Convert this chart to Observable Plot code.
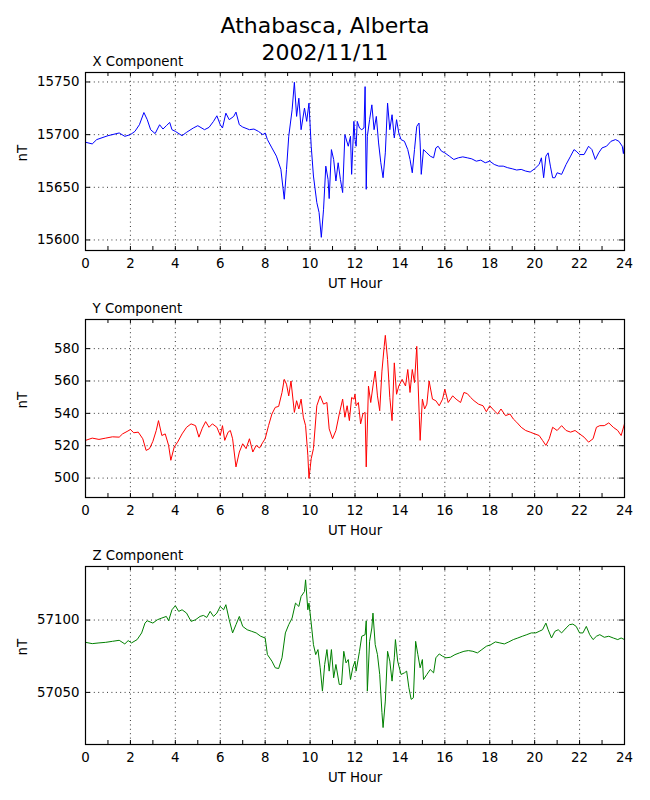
<!DOCTYPE html>
<html>
<head>
<meta charset="utf-8">
<script src="https://cdn.jsdelivr.net/npm/d3@7"></script>
<script src="https://cdn.jsdelivr.net/npm/@observablehq/plot@0.6"></script>
<style>
  html, body { margin: 0; padding: 0; background: white; }
  #root { position: relative; width: 650px; height: 800px; font-family: "DejaVu Sans", sans-serif; background: white; }
  #title { position: absolute; left: 0; top: 12px; width: 650px; text-align: center; font-size: 22px; line-height: 27px; color: black; z-index: 5; }
  .panel { position: absolute; left: 0; z-index: 1; }
</style>
</head>
<body>
<div id="root">
  <div id="title"></div>
</div>
<script>
// ---- data (hour, nT) ----
const titleLines = ["Athabasca, Alberta", "2002/11/11"];
const hourTicks = [0, 2, 4, 6, 8, 10, 12, 14, 16, 18, 20, 22, 24];
const hourMinor = [0,1,2,3,4,5,6,7,8,9,10,11,12,13,14,15,16,17,18,19,20,21,22,23,24];

const xTicks = [15600, 15650, 15700, 15750];
const yTicks = [500, 520, 540, 560, 580];
const zTicks = [57050, 57100];

const xComponent = [
[0,15692.8],[0.3,15691.2],[0.5,15695.3],[1,15699],[1.5,15701.6],[1.75,15698.4],[2,15700],[2.2,15703.1],[2.4,15709.4],[2.6,15721],[2.75,15714.2],[2.9,15704.7],[3.1,15701],[3.3,15709.4],[3.45,15705.3],[3.6,15708.5],[3.75,15711.6],[3.85,15704.7],[4,15703.1],[4.3,15699],[4.5,15702.2],[4.8,15706.3],[5,15708.5],[5.3,15704.7],[5.5,15706.9],[5.7,15712.6],[5.85,15717.9],[6,15709.4],[6.1,15706.3],[6.25,15720.4],[6.4,15714.2],[6.6,15717.3],[6.7,15721.4],[6.85,15709.4],[7,15707.2],[7.3,15704.7],[7.5,15705.3],[7.7,15703.1],[7.9,15700],[8,15701.6],[8.1,15695.3],[8.3,15687.4],[8.5,15679.6],[8.7,15667],[8.85,15638.7],[8.95,15667],[9.05,15698.4],[9.2,15723.6],[9.3,15749.7],[9.4,15717.3],[9.5,15734.6],[9.6,15704.7],[9.75,15725.2],[9.85,15712.6],[9.95,15729.9],[10.05,15689],[10.15,15660.7],[10.3,15635.5],[10.4,15626.1],[10.5,15602.5],[10.6,15629.2],[10.7,15670.1],[10.8,15657.5],[10.85,15639.3],[10.95,15685.8],[11.05,15676.4],[11.15,15656],[11.25,15673.3],[11.35,15657.5],[11.45,15645],[11.55,15700],[11.7,15689],[11.8,15698.4],[11.85,15662.3],[11.95,15712.6],[12,15695.3],
[12.05,15689],[12.1,15712.6],[12.2,15706.3],[12.3,15704.7],[12.4,15706.3],[12.45,15745.6],[12.5,15648.1],[12.55,15698.4],[12.65,15714.2],[12.75,15728.3],[12.85,15704.7],[12.95,15717.3],[13.05,15692.1],[13.15,15673.3],[13.25,15659.1],[13.35,15682.7],[13.45,15729.9],[13.55,15704.7],[13.65,15718.9],[13.75,15696.9],[13.85,15714.2],[13.95,15701.6],[14.05,15695.3],[14.2,15693.7],[14.35,15685.8],[14.45,15676.4],[14.55,15663.8],[14.65,15685.8],[14.75,15707.9],[14.85,15711],[14.9,15692.1],[14.95,15662.3],[15.05,15685.8],[15.2,15682.7],[15.35,15679.6],[15.5,15678],[15.6,15687.4],[15.7,15689],[15.85,15684.3],[16,15682.7],[16.2,15679.6],[16.4,15676.4],[16.6,15678],[16.8,15678.9],[17,15678],[17.2,15677],[17.4,15674.8],[17.6,15675.8],[17.8,15673.3],[18,15674.8],[18.2,15671.7],[18.4,15670.1],[18.6,15670.1],[18.8,15668.6],[19,15667.6],[19.2,15666.4],[19.4,15667],[19.6,15665.4],[19.8,15664.5],[20,15667.6],[20.2,15671.7],[20.3,15678],[20.4,15659.1],[20.5,15679.6],[20.6,15682.7],[20.7,15670.1],[20.8,15659.1],[20.9,15659.1],[21,15663.8],[21.2,15662.3],[21.4,15671.7],[21.6,15679.6],[21.75,15685.8],[21.85,15684.3],[22,15681.1],[22.2,15681.1],[22.4,15689],[22.55,15685.8],[22.7,15676.4],[22.85,15682.7],[23,15687.4],[23.2,15689],[23.4,15693.7],[23.6,15695.3],[23.75,15693.7],[23.9,15689],[23.95,15682],[24,15690.6]
];

const yComponent = [
[0,523.3],[0.3,524.7],[0.6,523.9],[0.9,524.7],[1.2,525.5],[1.5,525.3],[1.65,527.3],[1.85,528.8],[2,530],[2.15,528],[2.35,528.4],[2.55,524.3],[2.7,517.1],[2.85,518.2],[3,522.7],[3.15,529.4],[3.25,535.5],[3.4,526.3],[3.55,527.3],[3.7,520.2],[3.8,511],[3.95,519.2],[4.1,522.2],[4.3,527.3],[4.5,531.4],[4.7,533.5],[4.9,532.4],[5.05,525.3],[5.2,530.8],[5.35,534.9],[5.5,531.4],[5.65,533.5],[5.85,531.4],[6,526.3],[6.1,532.4],[6.2,523.3],[6.35,528.4],[6.45,529.4],[6.55,524.3],[6.7,506.9],[6.85,516.1],[7,521.2],[7.15,518.2],[7.3,524.3],[7.45,516.1],[7.6,520.2],[7.75,518.6],[7.9,522.2],[8,524.3],[8.15,532.4],[8.3,539.6],[8.45,543.7],[8.6,544.3],[8.75,552.9],[8.85,561],[8.95,558],[9.05,550.8],[9.15,560],[9.3,540.6],[9.4,547.8],[9.5,542.7],[9.6,548.8],[9.7,537.6],[9.8,532.4],[9.9,514.1],[9.95,499.8],[10.05,512],[10.15,518.2],[10.3,544.7],[10.45,550.8],[10.6,545.7],[10.75,546.7],[10.85,530.4],[11,524.3],[11.15,529.4],[11.3,539.6],[11.45,548.8],[11.55,537.6],[11.65,544.7],[11.75,535.5],[11.85,549.8],[11.95,548.8],[12,551.8],
[12.05,544.7],[12.15,546.7],[12.25,533.5],[12.35,539.6],[12.45,540.6],[12.5,506.9],[12.6,556.9],[12.7,546.7],[12.8,556.9],[12.9,566.1],[13,550.8],[13.1,541.6],[13.2,566.1],[13.3,581.4],[13.35,588.2],[13.45,573.3],[13.55,549.8],[13.65,535.5],[13.75,571.2],[13.85,551.8],[13.95,556.9],[14.1,561],[14.25,556.9],[14.35,567.1],[14.45,552.9],[14.55,567.1],[14.65,559],[14.75,581.4],[14.85,542.7],[14.9,523.3],[15,548.8],[15.1,542.7],[15.2,545.7],[15.3,560],[15.45,548.8],[15.6,547.8],[15.75,544.7],[15.9,548.8],[16,554.9],[16.15,546.7],[16.35,550.8],[16.5,548.8],[16.7,546.7],[16.85,552.9],[17,552.2],[17.15,549.8],[17.3,547.8],[17.5,545.7],[17.7,544.7],[17.85,541],[18,544.7],[18.2,541.6],[18.35,539.6],[18.5,542.7],[18.7,538.6],[18.9,539.6],[19.05,536.5],[19.2,534.5],[19.4,531.4],[19.6,529.4],[19.8,528.4],[20,527.3],[20.2,526.3],[20.35,523.3],[20.5,520.2],[20.65,524.3],[20.8,531.4],[21,529.4],[21.2,532.4],[21.4,529.4],[21.6,528.4],[21.8,529.4],[22,527.3],[22.2,525.3],[22.4,522.2],[22.6,524.3],[22.75,531.4],[22.9,532.4],[23.1,532.4],[23.3,534.1],[23.5,531.4],[23.7,529.4],[23.85,526.3],[24,533.5]
];

const zComponent = [
[0,57084.6],[0.3,57083.7],[0.6,57084.2],[0.9,57084.6],[1.2,57085.3],[1.5,57086],[1.75,57083.5],[1.9,57085.8],[2.05,57084.2],[2.3,57086.5],[2.5,57091.1],[2.65,57097.9],[2.75,57099.5],[3,57097.9],[3.2,57100.2],[3.4,57101.4],[3.6,57102.5],[3.7,57099.5],[3.85,57107.1],[4,57109.9],[4.15,57106],[4.3,57107.1],[4.5,57104.8],[4.7,57099.1],[4.9,57100.2],[5.1,57102.5],[5.25,57103.2],[5.4,57101.8],[5.55,57106],[5.7,57102.5],[5.85,57104.8],[6,57109.4],[6.15,57107.1],[6.25,57110.6],[6.4,57100.2],[6.55,57091.1],[6.7,57096.8],[6.85,57102.5],[7,57095.6],[7.2,57093.3],[7.4,57092.2],[7.6,57091.1],[7.8,57088.8],[8,57087.6],[8.1,57076.1],[8.3,57071.6],[8.45,57067],[8.6,57066.5],[8.75,57073.9],[8.9,57091.1],[9.05,57096.8],[9.2,57101.4],[9.35,57111.7],[9.5,57109.4],[9.6,57116.3],[9.75,57119.7],[9.8,57127.8],[9.9,57107.1],[9.95,57111.7],[10.05,57097.9],[10.15,57083],[10.25,57076.1],[10.35,57079.6],[10.45,57067],[10.55,57050.9],[10.65,57069.3],[10.75,57079.6],[10.85,57064.7],[10.95,57079.6],[11.05,57060.1],[11.15,57069.3],[11.3,57055.5],[11.4,57055.5],[11.5,57078.4],[11.6,57070.4],[11.7,57072.7],[11.8,57058.9],[11.9,57067],[12,57071.6],
[12.05,57064.7],[12.2,57078.4],[12.3,57088.8],[12.45,57089.9],[12.5,57099.5],[12.55,57050.9],[12.65,57085.3],[12.75,57094.5],[12.8,57104.8],[12.9,57083],[13,57076.1],[13.1,57062.4],[13.2,57036],[13.25,57025.7],[13.35,57044],[13.45,57078.4],[13.55,57071.6],[13.65,57057.8],[13.75,57073.9],[13.8,57086.5],[13.9,57071.6],[14.05,57062.4],[14.2,57063.5],[14.3,57064.7],[14.4,57053.2],[14.5,57045.2],[14.6,57046.3],[14.7,57085.3],[14.8,57076.1],[14.9,57067],[15,57072.7],[15.05,57058.9],[15.2,57062.4],[15.35,57065.8],[15.5,57063.5],[15.6,57073.9],[15.75,57076.6],[15.9,57075],[16.05,57073.9],[16.25,57074.3],[16.45,57076.1],[16.65,57077.3],[16.85,57078.4],[17.05,57078.9],[17.25,57078.4],[17.45,57077.3],[17.65,57079.6],[17.85,57081.9],[18.05,57083],[18.25,57084.9],[18.45,57084.2],[18.65,57083.5],[18.85,57084.9],[19.05,57086.5],[19.25,57087.6],[19.45,57088.8],[19.65,57089.9],[19.85,57091.1],[20.05,57091.1],[20.2,57092.2],[20.35,57093.3],[20.5,57097.9],[20.6,57093.3],[20.75,57087.6],[20.9,57092.2],[21.05,57093.3],[21.2,57091.1],[21.4,57094.5],[21.55,57096.8],[21.7,57097.2],[21.85,57095.6],[22,57091.1],[22.15,57091.1],[22.3,57095.6],[22.45,57089.9],[22.6,57086.5],[22.75,57088.8],[22.9,57089.9],[23.1,57088.1],[23.3,57088.8],[23.5,57087.6],[23.7,57086.5],[23.85,57087.6],[24,57086.5]
];

const panelNames = ["X Component", "Y Component", "Z Component"];
const panelColors = ["#0000ff", "#ff0000", "#008000"];
const panelDomains = [[15590, 15759], [488, 598], [57014, 57137]];
const xLabel = "UT Hour";
const yLabel = "nT";

// ---- layout ----
const W = 650, mL = 85, mR = 26, mT = 22, mB = 45, innerH = 178;
const innerW = W - mL - mR;
const panelTops = [50, 297, 544];
const series = [xComponent, yComponent, zComponent];
const tickSets = [xTicks, yTicks, zTicks];
const FS = 13.33;

const root = document.getElementById("root");
for (let i = 0; i < 3; i++) {
  const ticks = tickSets[i];
  const chart = Plot.plot({
    width: W,
    height: mT + innerH + mB,
    marginLeft: mL, marginRight: mR, marginTop: mT, marginBottom: mB,
    style: { fontFamily: "DejaVu Sans", fontSize: FS + "px", background: "transparent", color: "black", overflow: "visible" },
    x: { domain: [0, 24], ticks: hourTicks, tickSize: 0, tickPadding: 8, label: null, tickFormat: d => String(d) },
    y: { domain: panelDomains[i], ticks: ticks, tickSize: 0, tickPadding: 6, label: null, tickFormat: d => String(d) },
    marks: [
      Plot.ruleX(hourTicks.slice(1, -1), { x: d => d, stroke: "black", strokeWidth: 0.8, strokeDasharray: "1,3.4" }),
      Plot.ruleY(ticks, { y: d => d, stroke: "black", strokeWidth: 0.8, strokeDasharray: "1,3.4" }),
      Plot.line(series[i], { x: d => d[0], y: d => d[1], stroke: panelColors[i], strokeWidth: 1 }),
      Plot.tickX(hourMinor, { x: d => d, insetTop: innerH - 4, stroke: "black" }),
      Plot.tickX(hourMinor, { x: d => d, insetBottom: innerH - 4, stroke: "black" }),
      Plot.tickY(ticks, { y: d => d, insetRight: innerW - 5, stroke: "black" }),
      Plot.tickY(ticks, { y: d => d, insetLeft: innerW - 5, stroke: "black" }),
      Plot.frame({ stroke: "black", strokeWidth: 1.2 }),
      Plot.text([panelNames[i]], { text: d => d, frameAnchor: "top-left", dx: 7, dy: -7, textAnchor: "start", lineAnchor: "bottom", fontSize: FS }),
      Plot.text([xLabel], { text: d => d, frameAnchor: "bottom", dy: 33, lineAnchor: "middle", fontSize: FS }),
      Plot.text([yLabel], { text: d => d, frameAnchor: "left", dx: -63, rotate: -90, lineAnchor: "middle", fontSize: FS })
    ]
  });
  chart.classList.add("panel");
  chart.style.top = panelTops[i] + "px";
  chart.style.position = "absolute";
  chart.style.left = "0px";
  root.appendChild(chart);
}
document.getElementById("title").innerHTML = titleLines.join("<br>");
</script>
</body>
</html>
